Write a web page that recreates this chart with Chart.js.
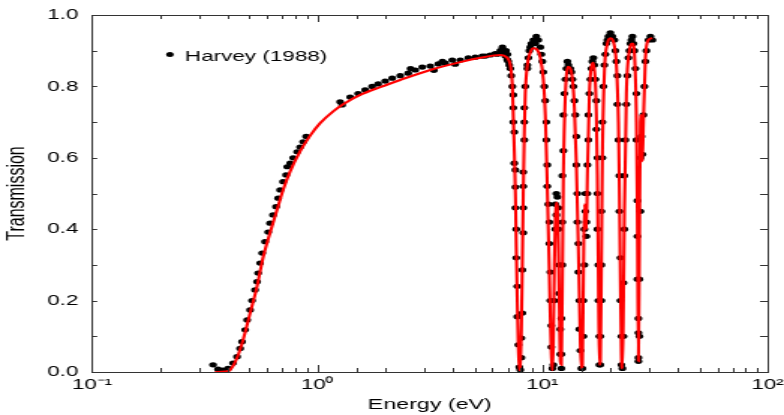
<!DOCTYPE html>
<html><head><meta charset="utf-8">
<script src="https://cdn.jsdelivr.net/npm/chart.js@4.4.1/dist/chart.umd.min.js"></script>
<style>
html,body{margin:0;padding:0;background:#fff;overflow:hidden;}
#wrap{width:523px;height:415px;transform:scaleX(1.499044);transform-origin:0 0;}
</style></head><body>
<div id="wrap"><canvas id="c" width="523" height="415"></canvas></div>
<script>
const seriesLabel = 'Harvey (1988)';
const xAxisTitle = 'Energy (eV)';
const yAxisTitle = 'Transmission';
const xTickValues = [0.1, 1, 10, 100];
const xTickLabels = ['10\u207B\u00B9', '10\u2070', '10\u00B9', '10\u00B2'];
const yTickValues = [0, 0.2, 0.4, 0.6, 0.8, 1.0];
const yTickLabels = ['0.0', '0.2', '0.4', '0.6', '0.8', '1.0'];

// Measured points (Harvey 1988)
const harveyEnergy = [
  0.345,0.363,0.382,0.402,0.423,0.441,0.455,0.464,0.479,0.489,0.504,0.514,0.530,0.541,0.547,0.558,0.570,0.587,0.606,0.618,0.637,0.657,0.671,0.685,0.706,0.728,0.736,0.759,0.782,0.815,0.840,0.867,0.894,
  1.265,1.291,1.402,1.521,1.634,1.755,1.866,2.005,2.154,2.339,2.537,2.6,2.727,2.929,3.178,3.3,3.451,3.6,3.706,3.981,4.1,4.322,4.690,5.038,5.412,5.58,5.873,6.18,6.310,6.51,6.65,6.71,6.85,6.9,6.99,7.0,7.06,7.13,7.21,7.28,
  7.36,7.43,7.43,7.43,7.51,7.51,7.59,7.59,7.59,7.66,7.66,7.74,7.74,7.82,7.90,7.98,
  8.07,8.07,8.15,8.15,8.23,8.23,8.23,8.23,8.32,8.32,8.32,8.40,8.58,
  8.58,8.67,8.76,8.84,8.94,9.12,9.31,9.40,9.60,9.80,9.90,10.0,10.10,10.21,
  10.31,10.42,10.42,10.52,10.52,10.63,10.74,10.74,10.85,10.85,10.96,10.96,11.08,
  11.19,11.31,11.42,11.42,11.54,11.66,11.54,11.78,11.78,11.90,11.90,12.02,12.02,12.15,
  12.15,12.15,12.27,12.27,12.27,12.40,12.40,12.53,12.66,12.79,12.92,13.05,13.32,13.46,13.60,13.74,13.88,
  14.02,14.16,14.16,14.30,14.30,14.45,14.45,14.60,14.60,14.75,14.90,15.06,
  15.21,15.21,15.37,15.37,15.53,15.53,15.69,15.69,15.85,15.85,16.01,16.01,
  16.18,16.34,16.51,16.68,16.85,17.02,17.20,17.38,
  17.38,17.56,17.56,17.56,17.74,17.74,17.92,17.92,18.10,18.10,18.29,18.29,18.29,18.48,18.48,18.67,18.86,
  19.05,19.25,19.45,19.65,20.05,20.47,20.89,21.11,21.32,21.54,
  21.54,21.77,21.99,21.99,22.22,22.22,22.44,22.44,22.67,22.91,22.91,23.14,23.14,23.38,23.62,23.87,
  24.11,24.36,24.61,24.86,25.12,25.38,25.64,25.91,26.17,
  26.17,26.44,26.44,26.44,26.71,26.71,26.71,26.71,26.98,26.98,27.26,27.26,27.54,27.82,28.11,28.40,28.69,28.99,29.59,30.20,30.83
];
const harveyTrans = [
  0.02,0.008,0.005,0.01,0.025,0.043,0.066,0.085,0.118,0.146,0.174,0.2,0.23,0.253,0.277,0.305,0.333,0.365,0.392,0.417,0.44,0.463,0.487,0.51,0.533,0.552,0.575,0.585,0.6,0.617,0.63,0.645,0.66,
  0.757,0.748,0.77,0.78,0.79,0.80,0.807,0.815,0.823,0.83,0.837,0.85,0.846,0.854,0.857,0.845,0.863,0.87,0.865,0.874,0.862,0.874,0.88,0.882,0.885,0.885,0.888,0.892,0.89,0.9,0.91,0.895,0.885,0.9,0.875,0.89,0.87,0.86,0.85,0.83,
  0.80,0.776,0.74,0.70,0.672,0.585,0.566,0.518,0.46,0.40,0.32,0.24,0.155,0.076,0.014,0.006,
  0.04,0.095,0.165,0.286,0.39,0.46,0.52,0.56,0.65,0.70,0.74,0.80,0.85,
  0.86,0.88,0.90,0.91,0.92,0.93,0.92,0.94,0.93,0.91,0.89,0.87,0.84,0.80,
  0.76,0.70,0.65,0.58,0.52,0.47,0.42,0.36,0.28,0.20,0.13,0.07,0.01,
  0.02,0.2,0.40,0.47,0.50,0.49,0.44,0.46,0.40,0.30,0.22,0.12,0.05,0.01,
  0.05,0.15,0.30,0.42,0.55,0.62,0.72,0.78,0.82,0.85,0.87,0.86,0.85,0.84,0.82,0.80,0.76,
  0.72,0.66,0.58,0.50,0.42,0.36,0.28,0.20,0.12,0.06,0.01,0.01,
  0.1,0.2,0.3,0.4,0.5,0.45,0.42,0.38,0.5,0.58,0.65,0.72,
  0.78,0.82,0.85,0.87,0.88,0.86,0.82,0.76,
  0.68,0.60,0.50,0.40,0.30,0.20,0.10,0.02,0.02,0.10,0.20,0.30,0.45,0.60,0.70,0.80,0.86,
  0.89,0.92,0.93,0.94,0.95,0.94,0.93,0.90,0.87,0.83,
  0.75,0.65,0.55,0.45,0.32,0.20,0.10,0.02,0.01,0.10,0.25,0.40,0.55,0.65,0.75,0.83,
  0.88,0.90,0.92,0.93,0.94,0.92,0.90,0.85,0.78,
  0.65,0.48,0.38,0.26,0.15,0.11,0.04,0.03,0.10,0.26,0.45,0.60,0.66,0.61,0.72,0.80,0.87,0.90,0.93,0.94,0.93
];

// Fitted transmission curve
const fitEnergy = [
  0.352,0.390,0.411,0.441,0.469,0.504,0.541,0.575,0.618,0.664,0.706,0.759,0.840,0.931,1.031,1.178,1.305,1.553,1.905,2.339,3.178,4.322,5.302,6.51,
  6.85,7.21,7.28,7.36,7.43,7.51,7.59,7.66,7.74,7.82,7.90,7.98,8.07,8.15,8.23,8.32,8.40,8.58,8.84,9.12,9.40,9.80,
  10.10,10.31,10.52,10.74,10.85,10.96,11.08,11.19,11.31,11.42,11.54,11.66,11.78,11.90,12.02,12.15,12.27,12.40,12.66,13.05,13.46,13.88,
  14.16,14.45,14.75,14.90,15.06,15.21,15.37,15.53,15.69,15.85,16.18,16.51,16.85,17.20,17.38,17.56,17.74,17.92,
  18.10,18.29,18.48,18.86,19.45,20.05,20.68,21.32,21.77,21.99,22.22,22.44,22.67,22.91,23.14,23.62,24.36,
  25.12,25.64,26.17,26.44,26.71,26.98,27.26,27.54,27.82,28.11,28.69,29.59,30.83
];
const fitTrans = [
  0,0.001,0.006,0.04,0.09,0.165,0.24,0.32,0.39,0.455,0.51,0.562,0.618,0.662,0.697,0.73,0.75,0.776,0.798,0.818,0.846,0.868,0.88,0.888,
  0.884,0.86,0.84,0.80,0.72,0.62,0.50,0.35,0.20,0.07,0.005,0.02,0.12,0.30,0.50,0.68,0.78,0.86,0.895,0.907,0.905,0.88,
  0.82,0.72,0.52,0.28,0.15,0.05,0.005,0.08,0.30,0.43,0.475,0.46,0.36,0.18,0.03,0.02,0.25,0.55,0.78,0.855,0.84,0.74,
  0.58,0.35,0.08,0.01,0.02,0.25,0.47,0.45,0.40,0.55,0.78,0.855,0.866,0.81,0.72,0.55,0.25,0.02,
  0.03,0.30,0.60,0.84,0.92,0.935,0.925,0.86,0.70,0.50,0.25,0.05,0.01,0.18,0.45,0.78,0.90,
  0.92,0.89,0.70,0.40,0.03,0.35,0.70,0.72,0.59,0.70,0.88,0.93,0.935
];

const harveyData = harveyEnergy.map((e, i) => ({x: e, y: harveyTrans[i]}));
const fitData = fitEnergy.map((e, i) => ({x: e, y: fitTrans[i]}));

const near = (a, b) => Math.abs(a - b) < 1e-6 * Math.max(1, Math.abs(b));

const framePlugin = {
  id: 'framePlugin',
  afterDraw(chart) {
    const {ctx, chartArea: a, scales} = chart;
    ctx.save();
    ctx.strokeStyle = '#333';
    ctx.lineWidth = 1;
    scales.x.ticks.forEach(t => {
      const px = Math.round(scales.x.getPixelForValue(t.value)) + 0.5;
      const major = xTickValues.some(v => near(t.value, v));
      const len = major ? 7 : 4;
      ctx.beginPath();
      ctx.moveTo(px, a.bottom); ctx.lineTo(px, a.bottom - len);
      ctx.moveTo(px, a.top); ctx.lineTo(px, a.top + len);
      ctx.stroke();
    });
    scales.y.ticks.forEach(t => {
      const py = Math.round(scales.y.getPixelForValue(t.value)) + 0.5;
      ctx.beginPath();
      ctx.moveTo(a.left, py); ctx.lineTo(a.left + 3.5, py);
      ctx.moveTo(a.right, py); ctx.lineTo(a.right - 5, py);
      ctx.stroke();
    });
    ctx.strokeRect(Math.round(a.left) + 0.5, Math.round(a.top) + 0.5,
                   Math.round(a.right - a.left), Math.round(a.bottom - a.top));
    const lx = a.left + 52, ly = a.top + 39.5;
    ctx.fillStyle = '#000';
    ctx.beginPath(); ctx.arc(lx, ly, 2.5, 0, Math.PI * 2); ctx.fill();
    ctx.font = '15px "Liberation Sans", Arial, sans-serif';
    ctx.textBaseline = 'alphabetic';
    ctx.textAlign = 'left';
    ctx.fillText(chart.data.datasets[1].label, lx + 10, ly + 6);
    ctx.restore();
  }
};

new Chart(document.getElementById('c'), {
  type: 'scatter',
  data: {
    datasets: [
      {
        label: 'fit', data: fitData, showLine: true, order: 0,
        borderColor: '#ff0000', borderWidth: 2.1, pointRadius: 0,
        cubicInterpolationMode: 'monotone', fill: false
      },
      {
        label: seriesLabel, data: harveyData, order: 1,
        backgroundColor: '#000', borderColor: '#000', borderWidth: 0,
        pointRadius: 2.6, clip: 6
      }
    ]
  },
  options: {
    responsive: false, animation: false, devicePixelRatio: 1,
    layout: {padding: {left: 0, right: 11, top: 15, bottom: 0}},
    plugins: {legend: {display: false}, tooltip: {enabled: false}},
    scales: {
      x: {
        type: 'logarithmic', min: 0.1, max: 100,
        grid: {display: false, drawTicks: false},
        border: {display: false},
        ticks: {
          autoSkip: false, maxRotation: 0, minRotation: 0, padding: 4,
          color: '#000', font: {family: '"Liberation Sans", Arial, sans-serif', size: 15},
          callback: (v) => { const i = xTickValues.findIndex(t => near(v, t)); return i >= 0 ? xTickLabels[i] : ''; }
        },
        title: {display: true, text: xAxisTitle, color: '#000',
          font: {family: '"Liberation Sans", Arial, sans-serif', size: 15.5}, padding: {top: 0, bottom: 1}},
        afterFit(s) { s.height = 43; s.paddingLeft = 0; s.paddingRight = 0; }
      },
      y: {
        type: 'linear', min: 0, max: 1,
        grid: {display: false, drawTicks: false},
        border: {display: false},
        ticks: {
          stepSize: 0.1, autoSkip: false, padding: 9, color: '#000',
          font: {family: '"Liberation Sans", Arial, sans-serif', size: 15},
          callback: (v) => { const i = yTickValues.findIndex(t => near(v, t)); return i >= 0 ? yTickLabels[i] : ''; }
        },
        title: {display: true, text: yAxisTitle, color: '#000',
          font: {family: '"Liberation Sans", Arial, sans-serif', size: 16}, padding: {top: 2, bottom: 0}},
        afterFit(s) { s.width = 61.33; s.paddingTop = 0; s.paddingBottom = 0; }
      }
    }
  },
  plugins: [framePlugin]
});
</script>
</body></html>
